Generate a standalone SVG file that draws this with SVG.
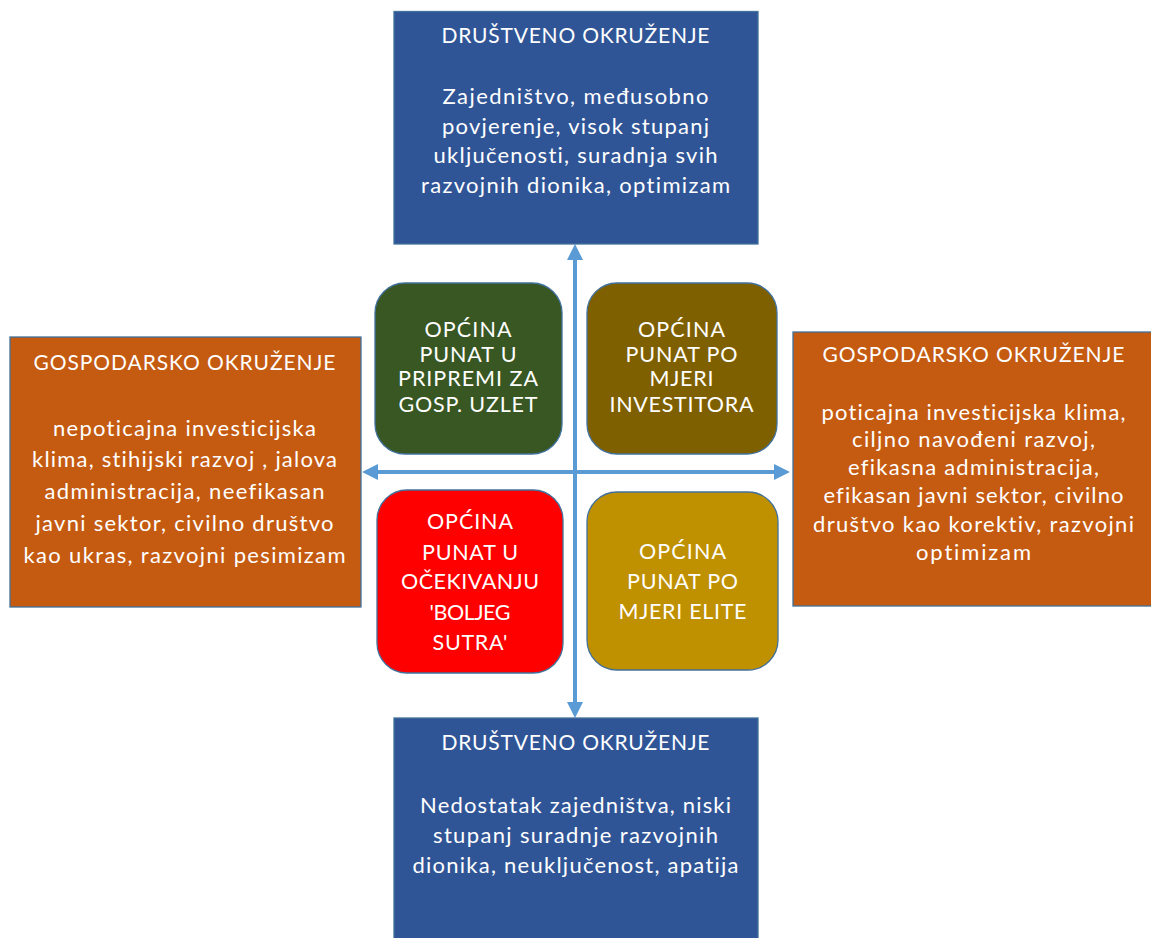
<svg xmlns="http://www.w3.org/2000/svg" width="1151" height="938" viewBox="0 0 1151 938">
<style>
.box{stroke:#41719C;stroke-width:1.3}
.t{font-family:Lato,"Open Sans","Liberation Sans",sans-serif;fill:#FFFFFF;text-anchor:middle;font-size:22px;font-variant-ligatures:none}
.h{font-size:21px}
.q{font-family:Lato,"Open Sans","Liberation Sans",sans-serif;fill:#FFFFFF;text-anchor:middle;font-size:21.5px;font-variant-ligatures:none}
.ax{stroke:#5B9BD5;stroke-width:4;fill:none}
</style>
<defs>
<marker id="ah" markerUnits="userSpaceOnUse" markerWidth="16" markerHeight="16" refX="4" refY="8" orient="auto-start-reverse">
<path d="M0,0 L16,8 L0,16 z" fill="#5B9BD5"/>
</marker>
</defs>
<rect width="1151" height="938" fill="#FFFFFF"/>

<g id="connectors">
<line class="ax" x1="575" y1="256" x2="575" y2="706" marker-start="url(#ah)" marker-end="url(#ah)"/>
<line class="ax" x1="374" y1="472" x2="778" y2="472" marker-start="url(#ah)" marker-end="url(#ah)"/>
</g>

<g id="top-society">
<rect class="box" x="394" y="11.5" width="364" height="232.5" fill="#2F5597"/>
<text class="t h" x="575.5" y="43" textLength="268" lengthAdjust="spacing">DRUŠTVENO OKRUŽENJE</text>
<text class="t" x="575.5" y="104" textLength="266" lengthAdjust="spacing">Zajedništvo, međusobno</text>
<text class="t" x="575.5" y="134" textLength="267" lengthAdjust="spacing">povjerenje, visok stupanj</text>
<text class="t" x="575.5" y="163" textLength="284" lengthAdjust="spacing">uključenosti, suradnja svih</text>
<text class="t" x="575.5" y="193" textLength="309" lengthAdjust="spacing">razvojnih dionika, optimizam</text>
</g>

<g id="bottom-society">
<rect class="box" x="394" y="718" width="364" height="225" fill="#2F5597"/>
<text class="t h" x="575.5" y="750" textLength="268" lengthAdjust="spacing">DRUŠTVENO OKRUŽENJE</text>
<text class="t" x="575.5" y="813" textLength="311" lengthAdjust="spacing">Nedostatak zajedništva, niski</text>
<text class="t" x="575.5" y="843" textLength="285" lengthAdjust="spacing">stupanj suradnje razvojnih</text>
<text class="t" x="575.5" y="873" textLength="326" lengthAdjust="spacing">dionika, neuključenost, apatija</text>
</g>

<g id="left-economy">
<rect class="box" x="10" y="337" width="351" height="270" fill="#C55A11"/>
<text class="t h" x="184.5" y="370" textLength="302" lengthAdjust="spacing">GOSPODARSKO OKRUŽENJE</text>
<text class="t" x="184.5" y="436" textLength="263" lengthAdjust="spacing">nepoticajna investicijska</text>
<text class="t" x="184.5" y="467" textLength="305" lengthAdjust="spacing">klima, stihijski razvoj , jalova</text>
<text class="t" x="184.5" y="499" textLength="280" lengthAdjust="spacing">administracija, neefikasan</text>
<text class="t" x="184.5" y="531" textLength="298" lengthAdjust="spacing">javni sektor, civilno društvo</text>
<text class="t" x="184.5" y="563" textLength="322" lengthAdjust="spacing">kao ukras, razvojni pesimizam</text>
</g>

<g id="right-economy">
<rect class="box" x="793" y="332" width="365" height="274" fill="#C55A11"/>
<text class="t h" x="973.5" y="362" textLength="302" lengthAdjust="spacing">GOSPODARSKO OKRUŽENJE</text>
<text class="t" x="973.5" y="420" textLength="304" lengthAdjust="spacing">poticajna investicijska klima,</text>
<text class="t" x="973.5" y="447" textLength="243" lengthAdjust="spacing">ciljno navođeni razvoj,</text>
<text class="t" x="973.5" y="475" textLength="251" lengthAdjust="spacing">efikasna administracija,</text>
<text class="t" x="973.5" y="503" textLength="300" lengthAdjust="spacing">efikasan javni sektor, civilno</text>
<text class="t" x="973.5" y="532" textLength="321" lengthAdjust="spacing">društvo kao korektiv, razvojni</text>
<text class="t" x="973.5" y="560" textLength="115" lengthAdjust="spacing">optimizam</text>
</g>

<g id="q-green">
<rect class="box" x="375" y="283" width="187" height="171" rx="30" fill="#385723"/>
<text class="q" x="468" y="337" textLength="87" lengthAdjust="spacing">OPĆINA</text>
<text class="q" x="468" y="362" textLength="97" lengthAdjust="spacing">PUNAT U</text>
<text class="q" x="468" y="386" textLength="140" lengthAdjust="spacing">PRIPREMI ZA</text>
<text class="q" x="468" y="412" textLength="139" lengthAdjust="spacing">GOSP. UZLET</text>
</g>

<g id="q-brown">
<rect class="box" x="587" y="283" width="190" height="171" rx="30" fill="#7F6000"/>
<text class="q" x="681.5" y="337" textLength="87" lengthAdjust="spacing">OPĆINA</text>
<text class="q" x="681.5" y="362" textLength="112" lengthAdjust="spacing">PUNAT PO</text>
<text class="q" x="681.5" y="386" textLength="64" lengthAdjust="spacing">MJERI</text>
<text class="q" x="681.5" y="412" textLength="144" lengthAdjust="spacing">INVESTITORA</text>
</g>

<g id="q-red">
<rect class="box" x="377" y="490" width="186" height="183" rx="30" fill="#FF0000"/>
<text class="q" x="470" y="529" textLength="86" lengthAdjust="spacing">OPĆINA</text>
<text class="q" x="470" y="560" textLength="96" lengthAdjust="spacing">PUNAT U</text>
<text class="q" x="470" y="589" textLength="138" lengthAdjust="spacing">OČEKIVANJU</text>
<text class="q" x="470" y="620" textLength="81" lengthAdjust="spacing">'BOLJEG</text>
<text class="q" x="470" y="650" textLength="75" lengthAdjust="spacing">SUTRA'</text>
</g>

<g id="q-gold">
<rect class="box" x="587" y="492" width="191" height="178" rx="30" fill="#BF9000"/>
<text class="q" x="682.5" y="559" textLength="87" lengthAdjust="spacing">OPĆINA</text>
<text class="q" x="682.5" y="589" textLength="111" lengthAdjust="spacing">PUNAT PO</text>
<text class="q" x="682.5" y="619" textLength="128" lengthAdjust="spacing">MJERI ELITE</text>
</g>
</svg>
